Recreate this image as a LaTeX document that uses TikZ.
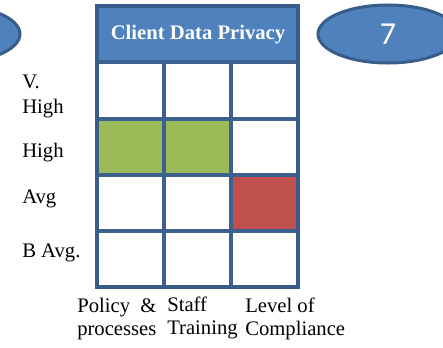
\documentclass[tikz,border=0pt]{standalone}
\usepackage{fontspec}
\setmainfont{Liberation Serif}
\newfontfamily\numfont{Carlito}
\usetikzlibrary{shapes.geometric}
\definecolor{hdrfill}{HTML}{4F81BD}
\definecolor{hdrline}{HTML}{385D8A}
\definecolor{gridline}{HTML}{3C6090}
\definecolor{goodfill}{HTML}{9BBB59}
\definecolor{badfill}{HTML}{C0504D}
\tikzset{
  bubble/.style={ellipse, draw=hdrline, fill=hdrfill, line width=2.25pt, minimum width=105pt, minimum height=43.5pt, inner sep=0pt},
  rowlabel/.style={anchor=base west, inner sep=0pt, align=left, font=\fontsize{15.5}{18.75}\selectfont},
  collabel/.style={anchor=base west, inner sep=0pt, align=left, font=\fontsize{15.5}{17.25}\selectfont},
  gridln/.style={draw=gridline, line width=2.8pt},
}
\begin{document}
\begin{tikzpicture}[x=0.75pt,y=-0.75pt]
\useasboundingbox (0,0) rectangle (443,347);
\begin{scope}
\clip (0,0) rectangle (443,347);
\node[bubble] (leftbubble) at (-50,34) {};
\node[bubble] (rightbubble) at (388,34) {\numfont\fontsize{24}{28}\selectfont\color{white}7};
\end{scope}
% header
\fill[hdrfill] (97,6) rectangle (298,62);
\node[font=\fontsize{15.5}{18}\selectfont\bfseries, text=white] (title) at (198,35) {Client Data Privacy};
% coloured cells
\fill[goodfill] (97,119) rectangle (164,175);
\fill[goodfill] (164,119) rectangle (231,175);
\fill[badfill] (231,175) rectangle (298,231);
% grid
\draw[gridln] (97,62) -- (298,62);
\draw[gridln] (97,119) -- (298,119);
\draw[gridln] (97,175) -- (298,175);
\draw[gridln] (97,231) -- (298,231);
\draw[gridln] (164,62) -- (164,287);
\draw[gridln] (231,62) -- (231,287);
\draw[draw=hdrline, line width=2.8pt] (97,6) rectangle (298,287);
% row labels
\node[rowlabel] (vhigh) at (22,113) {V.\\High};
\node[rowlabel] (high) at (22,157) {High};
\node[rowlabel] (avg) at (22,203) {Avg};
\node[rowlabel] (bavg) at (22,257) {B Avg.};
% column labels
\node[collabel] (policy) at (77,335) {Policy \ \&\\processes};
\node[collabel] (staff) at (167,334) {Staff\\Training};
\node[collabel] (level) at (245,335) {Level of\\Compliance};
\end{tikzpicture}
\end{document}
